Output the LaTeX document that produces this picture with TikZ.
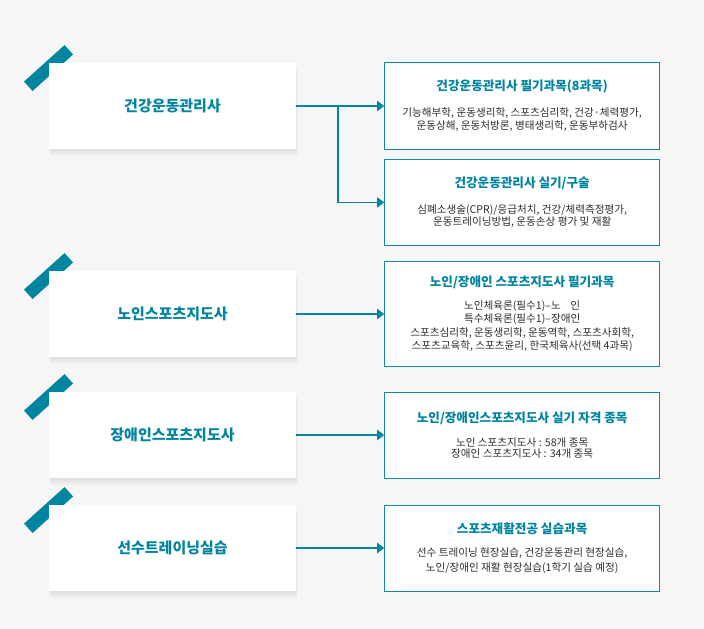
\documentclass[tikz,border=0pt]{standalone}
\usepackage{fontspec}
\setmainfont{Noto Sans CJK KR}
\usepackage{xcolor}
\usepackage{tikz}
\usetikzlibrary{arrows.meta,positioning,calc,backgrounds,shadows}
\definecolor{deepteal}{RGB}{0,133,160}
\definecolor{frameteal}{RGB}{20,138,160}
\definecolor{ink}{RGB}{45,45,48}
\definecolor{canvas}{RGB}{246,246,246}
\tikzset{
  softshadow/.style = {drop shadow={shadow xshift=0pt, shadow yshift=-2pt, opacity=0.05},
                       drop shadow={shadow xshift=1pt, shadow yshift=-4pt, opacity=0.05},
                       drop shadow={shadow xshift=1pt, shadow yshift=-6pt, opacity=0.04},
                       drop shadow={shadow xshift=2pt, shadow yshift=-8pt, opacity=0.03}},
  cert/.style    = {fill=white, text=deepteal, minimum width=247pt, minimum height=86pt,
                    inner sep=0pt, font=\fontsize{15}{17}\selectfont\bfseries, softshadow},
  course/.style  = {draw=frameteal, line width=0.9pt, fill=white, text=ink,
                    align=center, minimum width=275pt, inner sep=0pt,
                    font=\fontsize{10.6}{13.4}\selectfont},
  tab/.style     = {draw=deepteal, line width=12.7pt},
  flow/.style    = {-{Triangle[length=7pt,width=10pt]}, draw=deepteal, line width=1.8pt},
  subflow/.style = {-{Triangle[length=7pt,width=10pt]}, draw=deepteal, line width=1.1pt},
}
\newcommand{\crstitle}[1]{{\color{deepteal}\fontsize{12.6}{14}\selectfont\bfseries #1}}

\begin{document}
\begin{tikzpicture}[x=1pt, y=-1pt]
\begin{scope}[on background layer]
  \fill[canvas] (0,0) rectangle (704,629);
\end{scope}
\useasboundingbox (0,0) rectangle (704,629);

% qualifications
\node[cert] (hem)   at (172.5,106) {건강운동관리사};
\node[cert] (elder) at (172.5,314) {노인스포츠지도사};
\node[cert] (disab) at (172.5,435) {장애인스포츠지도사};
\node[cert] (train) at (172.5,548) {선수트레이닝실습};

% corner tabs
\begin{scope}[on background layer]
  \foreach \c in {hem,elder,disab,train}
    \draw[tab] ($(\c.north west)+(-20.5,23.5)$) -- ($(\c.north west)+(20,-13)$);
\end{scope}

% course boxes
\node[course, minimum height=87pt, right=88pt of hem] (hemw)
  {\crstitle{건강운동관리사 필기과목(8과목)}\\[12pt]
   기능해부학, 운동생리학, 스포츠심리학, 건강·체력평가,\\
   운동상해, 운동처방론, 병태생리학, 운동부하검사};
\node[course, minimum height=86pt, below=9pt of hemw] (hemp)
  {\crstitle{건강운동관리사 실기/구술}\\[12pt]
   심폐소생술(CPR)/응급처치, 건강/체력측정평가,\\[-1pt]
   운동트레이닝방법, 운동손상 평가 및 재활};
\node[course, minimum height=105pt, right=88pt of elder] (elderw)
  {\crstitle{노인/장애인 스포츠지도사 필기과목}\\[9pt]
   노인체육론(필수1)–노\hspace{0.9em}인\\
   특수체육론(필수1)–장애인\\
   스포츠심리학, 운동생리학, 운동역학, 스포츠사회학,\\
   스포츠교육학, 스포츠윤리, 한국체육사(선택 4과목)};
\node[course, minimum height=86pt, right=88pt of disab] (disabp)
  {\crstitle{노인/장애인스포츠지도사 실기 자격 종목}\\[11pt]
   노인 스포츠지도사 : 58개 종목\\[-2pt]
   장애인 스포츠지도사 : 34개 종목};
\node[course, minimum height=86pt, right=88pt of train] (trainp)
  {\crstitle{스포츠재활전공 실습과목}\\[10pt]
   선수 트레이닝 현장실습, 건강운동관리 현장실습,\\[1pt]
   노인/장애인 재활 현장실습(1학기 실습 예정)};

% connectors
\draw[flow] (hem) -- (hemw);
\coordinate (split) at ($(hem.east)!0.475!(hemw.west)$);
\draw[subflow] (split) |- (hemp);
\draw[flow] (elder) -- (elderw);
\draw[flow] (disab) -- (disabp);
\draw[flow] (train) -- (trainp);
\end{tikzpicture}
\end{document}
